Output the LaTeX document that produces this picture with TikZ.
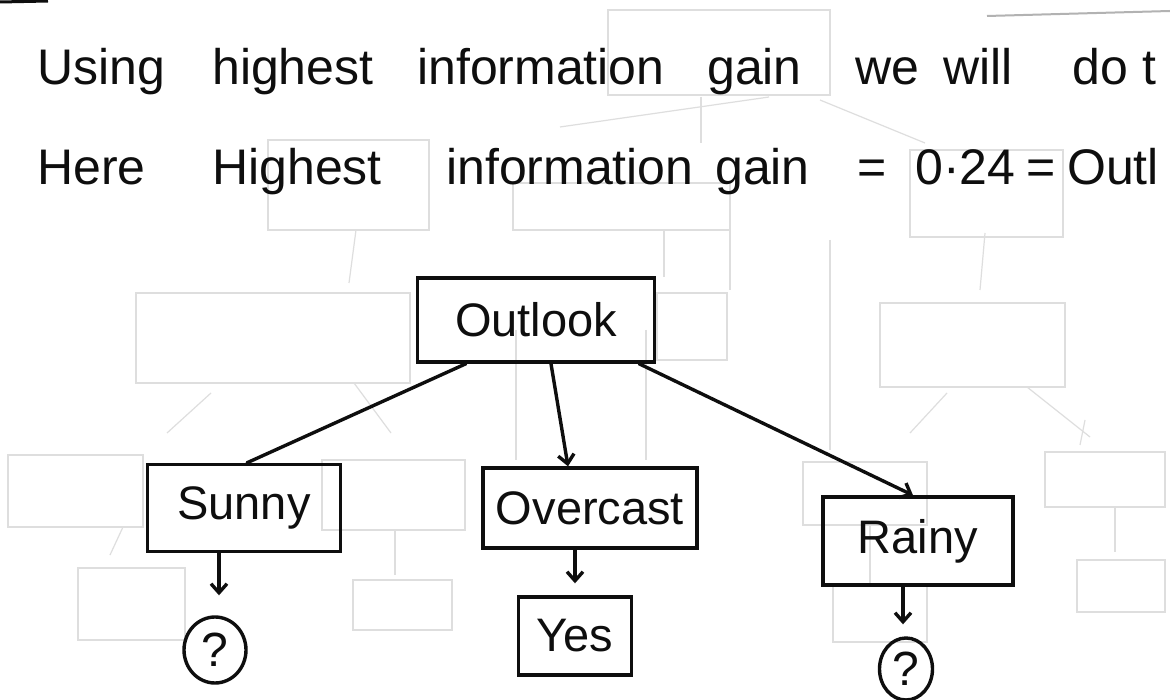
\documentclass[tikz,border=0pt]{standalone}
\usepackage{fontspec}
\setmainfont{Liberation Sans}
\usetikzlibrary{shapes.geometric, arrows.meta, positioning, calc}
\definecolor{inkblack}{RGB}{14,14,14}
\definecolor{ghostgray}{RGB}{222,222,222}

\begin{document}
\begin{tikzpicture}[x=1pt, y=-1pt, >={Straight Barb[length=9pt, width=16pt]},
    ink/.style={draw=inkblack, line width=3.4pt},
    word/.style={anchor=base west, inner sep=0pt, text=inkblack, font=\fontsize{50}{50}\selectfont},
    valbox/.style={ink, rectangle, inner sep=0pt, text=inkblack, font=\fontsize{47}{47}\selectfont},
    leaf/.style={ink, ellipse, inner sep=0pt, text=inkblack, font=\fontsize{48}{48}\selectfont},
    branch/.style={ink, line cap=round},
    ghost/.style={draw=ghostgray, line width=1.2pt}]

    \useasboundingbox (0,0) rectangle (1170,700);
    \fill[white] (0,0) rectangle (1170,700);

    % tree showing through from the back of the sheet
    \foreach \xa/\ya/\xb/\yb in {608/10/830/95, 268/140/429/230, 513/183/730/230, 910/150/1063/237,
        136/293/410/383, 657/293/727/360, 880/303/1065/387, 8/455/143/527, 78/568/185/640,
        322/460/465/530, 353/580/452/630, 803/462/927/525, 833/585/927/642, 1045/452/1165/507,
        1077/560/1165/612} {
        \draw[ghost] (\xa,\ya) rectangle (\xb,\yb);
    }
    \foreach \xa/\ya/\xb/\yb in {769/97/560/127, 701/97/701/143, 820/100/925/143, 356/230/349/283,
        664/230/664/277, 985/233/980/290, 211/393/167/433, 354/383/391/433, 947/393/910/433,
        1027/387/1090/437, 123/527/110/555, 395/530/395/575, 870/525/870/585, 1115/507/1115/552,
        1085/420/1080/445, 516/330/516/460, 646/330/646/460, 730/230/730/290, 830/240/830/450} {
        \draw[ghost] (\xa,\ya) -- (\xb,\yb);
    }

    % ends of the lines above
    \draw[inkblack, line width=3pt] (0,2) -- (48,1);
    \draw[gray!60, line width=2pt] (987,16) -- (1170,11);

    % the two written lines
    \foreach \w/\x [count=\i] in {Using/37, highest/212, information/417, gain/707, we/855, will/943, do/1072, t/1142}
        \node[word] (la\i) at (\x,85) {\w};
    \foreach \w/\x [count=\i] in {Here/37, Highest/212, information/446, gain/715, =/857, 0·24/915, =/1026, Outl/1067}
        \node[word] (lb\i) at (\x,185) {\w};

    % root and its values
    \node[valbox, minimum width=237pt, minimum height=84pt] (outlook) at (536,320) {Outlook};
    \node[valbox, minimum width=193pt, minimum height=87pt] (sunny) at (244,508) {Sunny};
    \node[valbox, minimum width=214pt, minimum height=80pt] (overcast) at (590,508) {Overcast};
    \node[valbox, minimum width=190pt, minimum height=88pt] (rainy) at (918,541) {Rainy};

    % leaves
    \node[valbox, minimum width=113pt, minimum height=78pt] (yes) at (575,636) {Yes};
    \node[leaf, minimum width=62pt, minimum height=66pt] (qsunny) at (215,650) {?};
    \node[leaf, minimum width=53pt, minimum height=62pt] (qrainy) at (906,669) {?};

    % branches
    \draw[branch] ([xshift=-70pt]outlook.south) -- ([xshift=3pt]sunny.north);
    \draw[branch, ->] ([xshift=15pt]outlook.south) -- ([xshift=-22pt]overcast.north);
    \draw[branch, ->] ([xshift=103pt]outlook.south) -- ([xshift=-5pt]rainy.north);
    \draw[branch, ->, shorten >=20pt] ([xshift=-25pt]sunny.south) -- ([xshift=4pt]qsunny.north);
    \draw[branch, ->, shorten >=12pt] ([xshift=-15pt]overcast.south) -- (yes.north);
    \draw[branch, ->, shorten >=12pt] ([xshift=-15pt]rainy.south) -- ([xshift=-3pt]qrainy.north);
\end{tikzpicture}
\end{document}
